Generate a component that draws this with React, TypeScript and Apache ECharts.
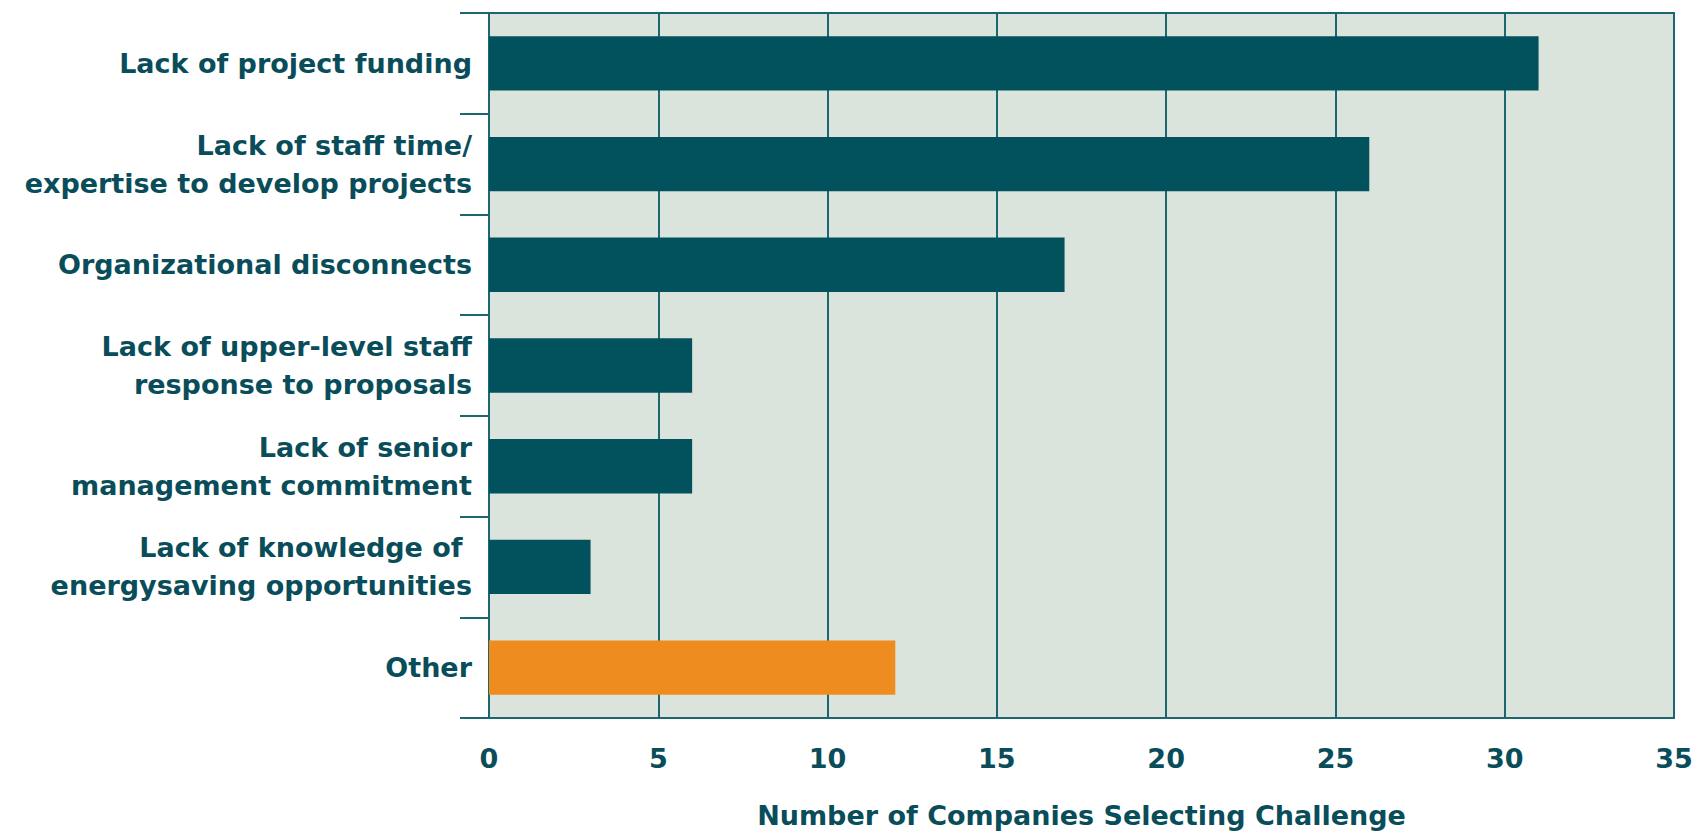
import React, { useEffect, useRef } from "react";
import * as echarts from "echarts";

const categories = [
  "Lack of project funding",
  "Lack of staff time/\nexpertise to develop projects",
  "Organizational disconnects",
  "Lack of upper-level staff\nresponse to proposals",
  "Lack of senior\nmanagement commitment",
  "Lack of knowledge of \nenergysaving opportunities",
  "Other",
];
const values = [31, 26, 17, 6, 6, 3, 12];
const highlightCategory = "Other";
const xAxisName = "Number of Companies Selecting Challenge";

const TEXT = "#0a4d5a";
const BAR = "#02525e";
const ORANGE = "#ee8c1f";
const LINE = "#1c6670";
const BG = "#dbe4dc";
const FONT = "DejaVu Sans";

export default function App() {
  const ref = useRef<HTMLDivElement>(null);
  useEffect(() => {
    if (!ref.current) return;
    const chart = echarts.init(ref.current, undefined, { renderer: "svg" });
    chart.setOption({
      animation: false,
      grid: {
        left: 489,
        right: 24,
        top: 13,
        bottom: 111,
        show: true,
        backgroundColor: BG,
        borderColor: LINE,
        borderWidth: 2,
      },
      xAxis: {
        type: "value",
        min: 0,
        max: 35,
        interval: 5,
        axisLine: { show: true, lineStyle: { color: LINE, width: 2 } },
        axisTick: { show: false },
        splitLine: { show: true, lineStyle: { color: LINE, width: 2 } },
        axisLabel: {
          color: TEXT,
          fontFamily: FONT,
          fontWeight: "bold",
          fontSize: 27,
          margin: 27,
        },
        name: xAxisName,
        nameLocation: "middle",
        nameGap: 84,
        nameTextStyle: {
          color: TEXT,
          fontFamily: FONT,
          fontWeight: "bold",
          fontSize: 27,
        },
      },
      yAxis: {
        type: "category",
        inverse: true,
        data: categories,
        axisLine: { show: true, lineStyle: { color: LINE, width: 2 } },
        axisTick: { show: true, length: 29, lineStyle: { color: LINE, width: 2 } },
        axisLabel: {
          color: TEXT,
          fontFamily: FONT,
          fontWeight: "bold",
          fontSize: 27,
          lineHeight: 38,
          margin: 17,
        },
      },
      series: [
        {
          type: "bar",
          barCategoryGap: "46%",
          data: values.map((v, i) => ({
            value: v,
            itemStyle: { color: categories[i] === highlightCategory ? ORANGE : BAR },
          })),
        },
      ],
    });
    return () => chart.dispose();
  }, []);
  return (
    <div
      ref={ref}
      style={{ position: "fixed", left: 0, top: 0, width: 1698, height: 834, background: "#ffffff" }}
    />
  );
}
